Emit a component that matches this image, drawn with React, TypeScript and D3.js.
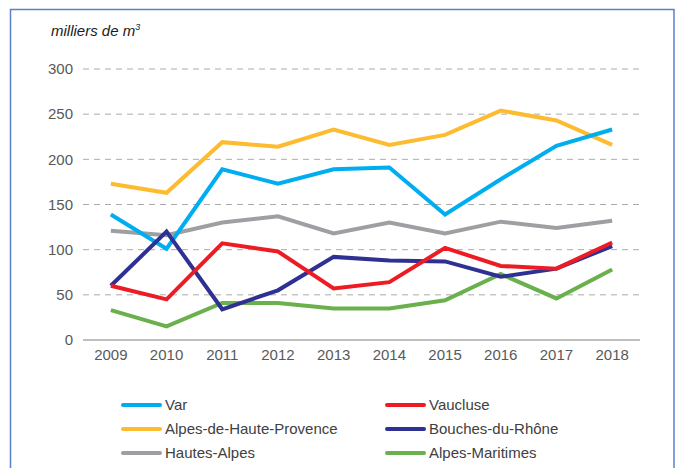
import * as d3 from 'd3'
import { useRef, useEffect } from 'react'

const years = ['2009', '2010', '2011', '2012', '2013', '2014', '2015', '2016', '2017', '2018'];
const yTicks = [0, 50, 100, 150, 200, 250, 300];

const varValues = [139, 101, 189, 173, 189, 191, 139, 178, 215, 233];
const vaucluse = [60, 45, 107, 98, 57, 64, 102, 82, 79, 108];
const ahp = [173, 163, 219, 214, 233, 216, 227, 254, 243, 216];
const bdr = [60, 120, 34, 55, 92, 88, 87, 70, 79, 104];
const hautesAlpes = [121, 116, 130, 137, 118, 130, 118, 131, 124, 132];
const alpesMaritimes = [33, 15, 41, 41, 35, 35, 44, 73, 46, 78];

const seriesNames = ['Var', 'Vaucluse', 'Alpes-de-Haute-Provence', 'Bouches-du-Rhône', 'Hautes-Alpes', 'Alpes-Maritimes'];
const seriesValues = [varValues, vaucluse, ahp, bdr, hautesAlpes, alpesMaritimes];
const seriesColors = ['#00aeef', '#ed1c24', '#fdbb2f', '#2e3192', '#9d9fa2', '#6ab04c'];
// order lines are drawn in (back to front)
const drawOrder = [4, 2, 0, 5, 3, 1];

function App() {
    const svgRef = useRef(null);

    useEffect(() => {
        const width = 680;
        const height = 468;
        const svg = d3.select(svgRef.current)
                    .attr('width', width)
                    .attr('height', height);
        svg.selectAll('*').remove();

        const font = 'Liberation Sans, Arial, sans-serif';
        const margins = {left: 83, top: 69, right: 40, bottom: 128};
        const plotW = width - margins.left - margins.right;
        const plotH = height - margins.top - margins.bottom;

        // frame
        svg.append('rect')
            .attr('x', 10.5).attr('y', 9.5)
            .attr('width', 663.5).attr('height', 480)
            .attr('fill', 'none')
            .attr('stroke', '#5b80c8')
            .attr('stroke-width', 1.5);

        const g = svg.append('g')
                    .attr('transform', `translate(${margins.left}, ${margins.top})`);

        const scaleX = d3.scaleBand()
                        .domain(years)
                        .range([0, plotW]);
        const scaleY = d3.scaleLinear()
                        .domain([0, 300])
                        .range([plotH, 0]);

        // dashed grid
        g.selectAll('.grid')
            .data(yTicks.filter(t => t > 0))
            .join('line')
            .attr('class', 'grid')
            .attr('x1', 0).attr('x2', plotW)
            .attr('y1', d => scaleY(d)).attr('y2', d => scaleY(d))
            .attr('stroke', '#ababab')
            .attr('stroke-width', 1)
            .attr('stroke-dasharray', '6,5');

        g.append('line')
            .attr('x1', 0).attr('x2', plotW)
            .attr('y1', plotH).attr('y2', plotH)
            .attr('stroke', '#7f7f7f')
            .attr('stroke-width', 1);

        const yAxis = g.append('g')
            .call(d3.axisLeft(scaleY).tickValues(yTicks).tickSize(0).tickPadding(10));
        yAxis.select('.domain').remove();
        yAxis.selectAll('text')
            .attr('font-family', font)
            .attr('font-size', 15)
            .attr('fill', '#595959');

        const xAxis = g.append('g')
            .attr('transform', `translate(0, ${plotH})`)
            .call(d3.axisBottom(scaleX).tickSize(0).tickPadding(9));
        xAxis.select('.domain').remove();
        xAxis.selectAll('text')
            .attr('font-family', font)
            .attr('font-size', 15)
            .attr('fill', '#595959');

        // unit label
        const unit = svg.append('text')
            .attr('x', 51).attr('y', 36)
            .attr('font-family', font)
            .attr('font-size', 15)
            .attr('font-style', 'italic')
            .attr('fill', '#1a1a1a')
            .text('milliers de m');
        unit.append('tspan')
            .attr('font-size', 9)
            .attr('dy', -6)
            .text('3');

        const line = d3.line()
                    .x((d, i) => scaleX(years[i]) + scaleX.bandwidth() / 2)
                    .y(d => scaleY(d));

        g.selectAll('.path-line')
            .data(drawOrder)
            .join('path')
            .attr('class', 'path-line')
            .attr('fill', 'none')
            .attr('stroke', d => seriesColors[d])
            .attr('stroke-width', 4)
            .attr('stroke-linejoin', 'miter')
            .attr('d', d => line(seriesValues[d]));

        // legend
        const legX = [123, 387];
        const legY = [405, 429, 453];
        const leg = svg.selectAll('.legend')
            .data(seriesNames)
            .join('g')
            .attr('class', 'legend')
            .attr('transform', (d, i) => `translate(${legX[i % 2]}, ${legY[Math.floor(i / 2)]})`);
        leg.append('line')
            .attr('x1', 0).attr('x2', 37)
            .attr('y1', 0).attr('y2', 0)
            .attr('stroke', (d, i) => seriesColors[i])
            .attr('stroke-width', 4)
            .attr('stroke-linecap', 'round');
        leg.append('text')
            .attr('x', 42).attr('y', 5)
            .attr('font-family', font)
            .attr('font-size', 15)
            .attr('fill', '#404040')
            .text(d => d);
    }, []);

    return (
        <svg ref={svgRef} style={{position: 'absolute', left: 0, top: 0, background: '#fff'}}></svg>
    )
}

export default App;
